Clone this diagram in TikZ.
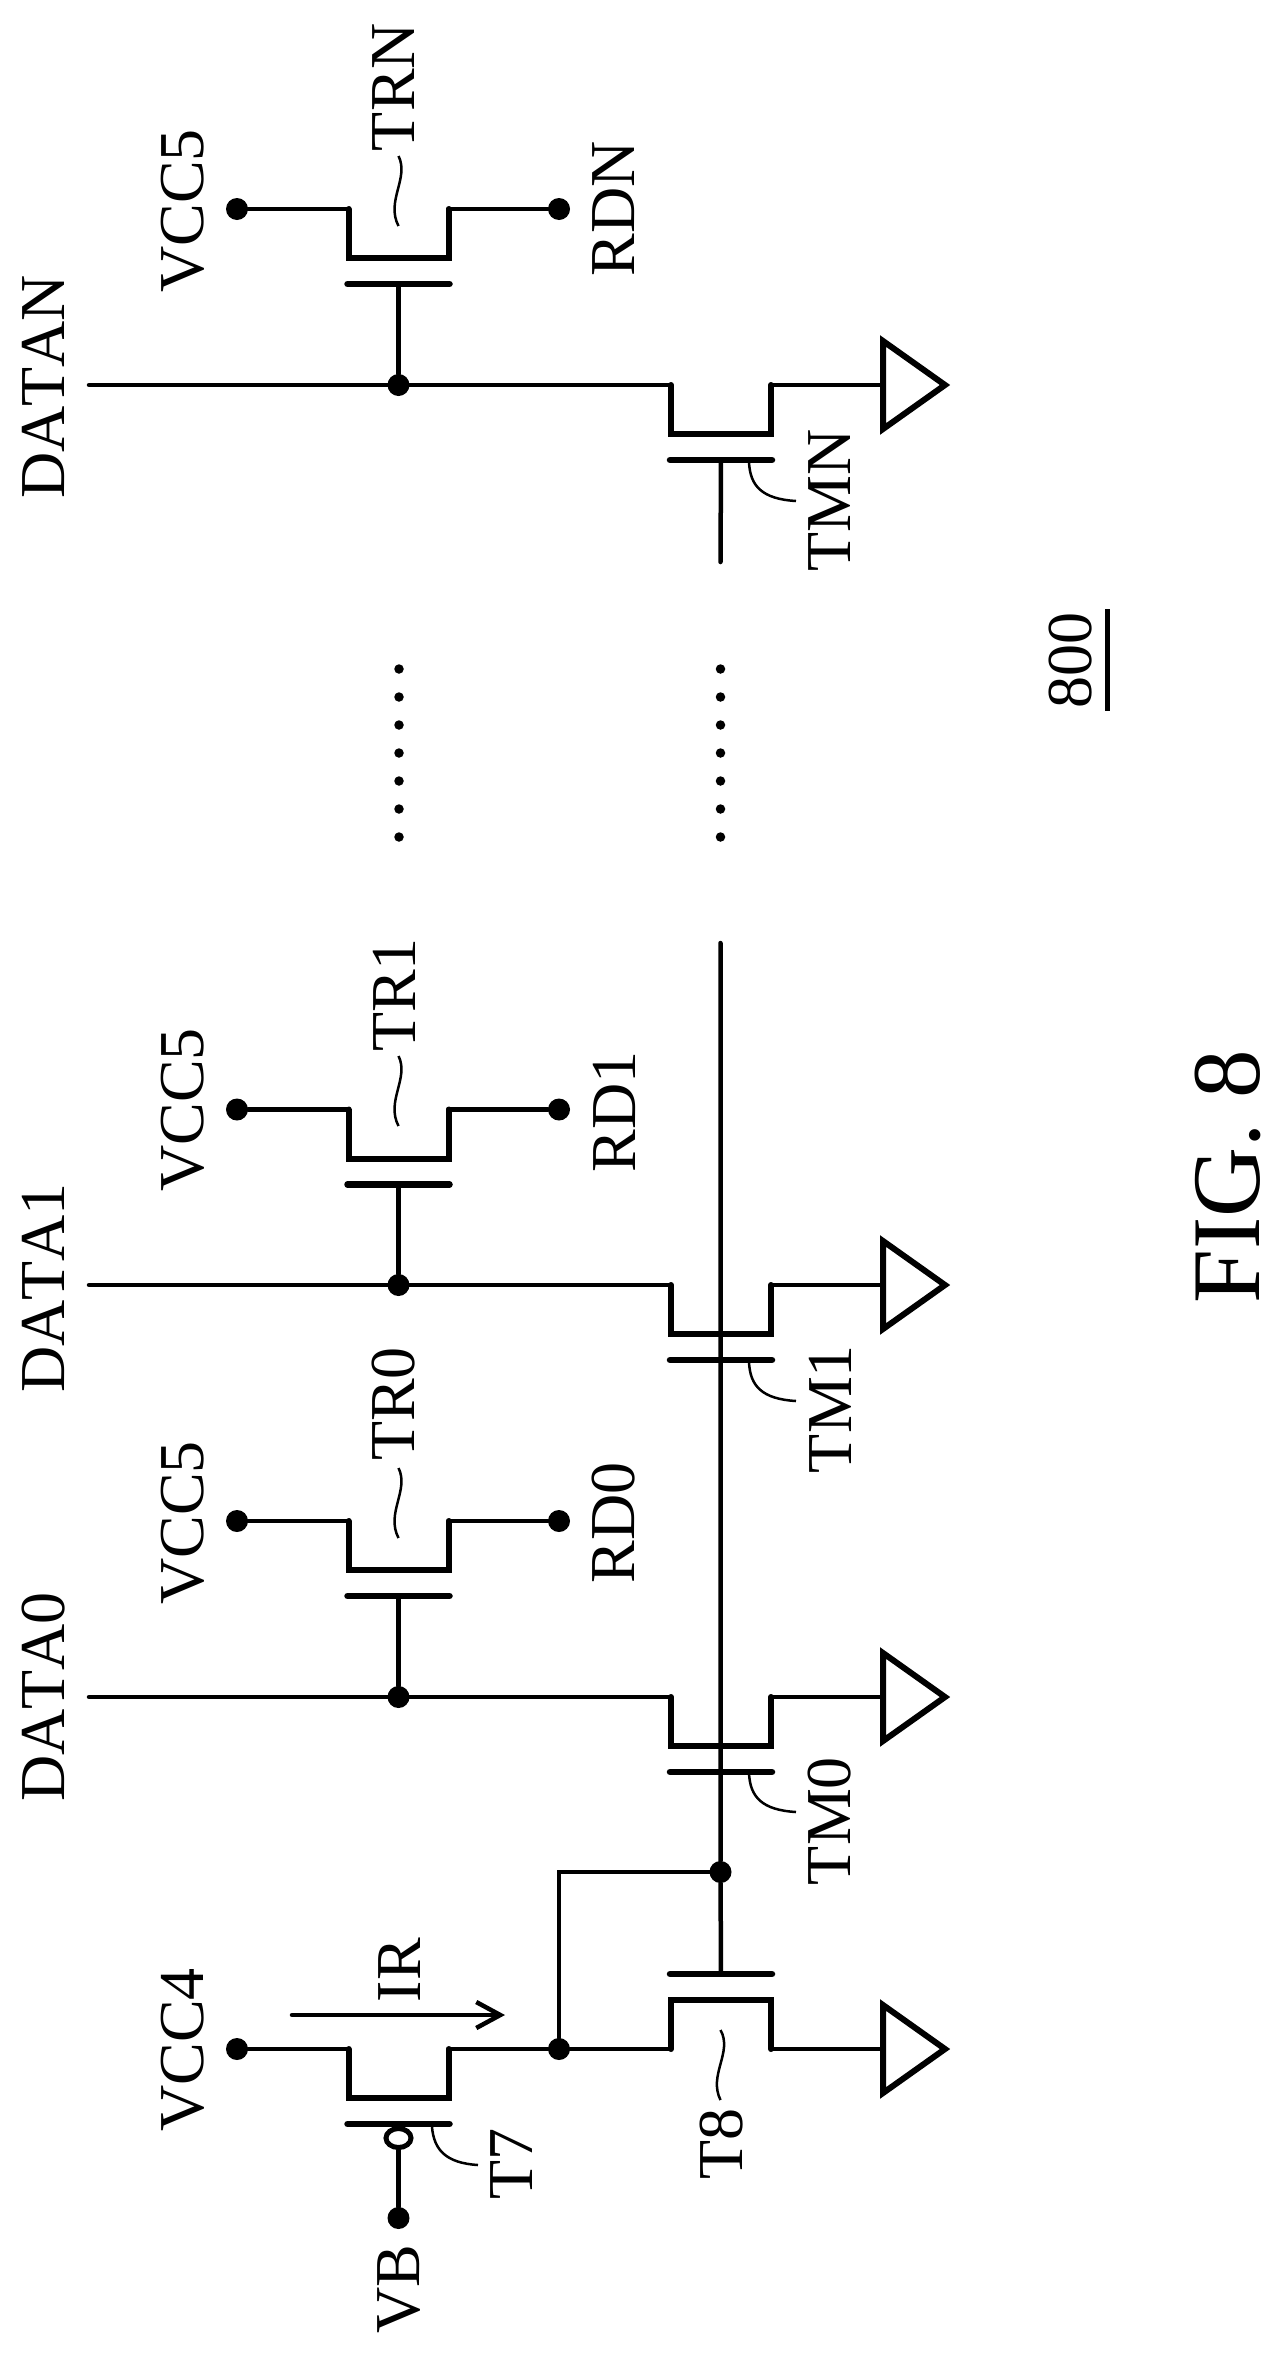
\documentclass[tikz,border=0pt]{standalone}
\usepackage{fontspec}
\setmainfont{Liberation Serif}[Kerning=Off]
\usetikzlibrary{arrows.meta,shapes.geometric}
\tikzset{
  wire/.style={line width=4.5pt,line cap=round},
  fetline/.style={line width=6pt,line cap=round,line join=miter},
  plate/.style={line width=6.5pt,line cap=round},
  leader/.style={line width=2.5pt},
  gndtri/.style={line width=6pt,line join=miter},
  dotnode/.style={circle,fill=black,inner sep=0pt,minimum size=22pt},
  smalldot/.style={circle,fill=black,inner sep=0pt,minimum size=9.5pt},
  lbl/.style={rotate=90,inner sep=0pt,font=\fontsize{64}{64}\selectfont},
  figlbl/.style={rotate=90,inner sep=0pt,font=\fontsize{97}{97}\selectfont},
  bubble/.style={ellipse,draw=black,fill=white,line width=5pt,inner sep=0pt,minimum width=25pt,minimum height=19pt},
}
% transistor: #1 name, #2 centre x, #3 terminal y, #4 +1 gate below, -1 gate above
\newcommand{\Fet}[4]{%
  \coordinate (#1s) at (#2-50,#3);
  \coordinate (#1d) at (#2+50,#3);
  \coordinate (#1g) at (#2,#3+#4*75);
  \draw[fetline] (#1s) -- (#2-50,#3+#4*49) -- (#2+50,#3+#4*49) -- (#1d);
  \draw[plate] (#2-51,#3+#4*75) -- (#2+51,#3+#4*75);
}
% ground: #1 name, #2 y
\newcommand{\Gnd}[2]{%
  \coordinate (#1) at (883,#2);
  \draw[gndtri] (883,#2-44) -- (945,#2) -- (883,#2+44) -- cycle;
}
% wavy leader: #1 x, #2 top y, #3 bottom y
\newcommand{\Wavy}[3]{%
  \draw[leader] (#1,#2) .. controls (#1+11,#2+22) and (#1-13,#2+45) .. (#1,#3);
}
% curved leader beside a gate: #1 y of the plate
\newcommand{\CurveT}[1]{%
  \draw[leader] (749,#1+2) .. controls (750,#1+26) and (762,#1+39) .. (796,#1+41);
}
\begin{document}
\begin{tikzpicture}[x=1pt,y=-1pt]
\useasboundingbox (0,0) rectangle (1282,2353);

% ---- column 0: T7 / T8
\Fet{tseven}{398.5}{2049}{1}
\Fet{teight}{721}{2049}{-1}
\Gnd{ga}{2049}
\node[dotnode] (vcc4) at (237,2049) {};
\node[dotnode] (mid) at (559,2049) {};
\node[dotnode] (vb) at (398.5,2218) {};
\node[dotnode] (bias) at (720.5,1872) {};
\node[bubble] (bub) at (398.5,2138) {};
\draw[wire] (vcc4) -- (tsevens);
\draw[wire] (tsevend) -- (mid) -- (teights);
\draw[wire] (teightd) -- (ga);
\draw[wire] (mid) |- (bias);
\draw[wire] (bub) -- (vb);
\coordinate (irs) at (292,2015);
\coordinate (ire) at (505,2015);
\draw[wire,-{Straight Barb[length=24pt,width=26pt,line width=4.5pt]}] (irs) -- (ire);

% ---- rail
\coordinate (railend) at (720.5,943);
\draw[wire] (teightg) -- (bias) -- (railend);

% ---- DATA0
\Fet{trz}{398.5}{1521}{1}
\Fet{tmz}{721}{1697}{1}
\Gnd{gb}{1697}
\coordinate (dz) at (89,1697);
\node[dotnode] (jz) at (398.5,1697) {};
\node[dotnode] (vz) at (237,1521) {};
\node[dotnode] (rz) at (559,1521) {};
\draw[wire] (dz) -- (jz) -- (tmzs);
\draw[wire] (tmzd) -- (gb);
\draw[wire] (vz) -- (trzs);
\draw[wire] (trzd) -- (rz);
\draw[wire] (trzg) -- (jz);

% ---- DATA1
\Fet{tro}{398.5}{1109.5}{1}
\Fet{tmo}{721}{1285}{1}
\Gnd{gc}{1285}
\coordinate (do) at (89,1285);
\node[dotnode] (jo) at (398.5,1285) {};
\node[dotnode] (vo) at (237,1109.5) {};
\node[dotnode] (ro) at (559,1109.5) {};
\draw[wire] (do) -- (jo) -- (tmos);
\draw[wire] (tmod) -- (gc);
\draw[wire] (vo) -- (tros);
\draw[wire] (trod) -- (ro);
\draw[wire] (trog) -- (jo);

% ---- DATAN
\Fet{trn}{398.5}{209}{1}
\Fet{tmn}{721}{385}{1}
\Gnd{gd}{385}
\coordinate (dn) at (89,385);
\coordinate (gn) at (720.5,562);
\node[dotnode] (jn) at (398.5,385) {};
\node[dotnode] (vn) at (237,209) {};
\node[dotnode] (rn) at (559,209) {};
\draw[wire] (dn) -- (jn) -- (tmns);
\draw[wire] (tmnd) -- (gd);
\draw[wire] (vn) -- (trns);
\draw[wire] (trnd) -- (rn);
\draw[wire] (trng) -- (jn);
\draw[wire] (tmng) -- (gn);

% ---- ellipsis dots
\foreach \i/\yy in {1/669,2/697,3/725,4/753,5/781,6/809,7/837}{
  \node[smalldot] (ua\i) at (399,\yy) {};
  \node[smalldot] (ub\i) at (720.5,\yy) {};
}

% ---- leaders
\draw[leader] (432,2127) .. controls (434,2150) and (446,2163) .. (478,2165);
\draw[leader] (720.5,2030) .. controls (733,2052) and (708,2075) .. (720.5,2100);
\Wavy{398.5}{1056}{1126}
\Wavy{398.5}{1468}{1538}
\Wavy{398.5}{156}{226}
\CurveT{1771}
\CurveT{1360}
\CurveT{460}

% ---- labels
\node[lbl] (lvcc4) at (183,2050) {VCC4};
\node[lbl] (lir) at (399.5,1970) {IR};
\node[lbl] (lvb) at (399.5,2289) {VB};
\node[lbl] (lt7) at (512,2164) {T7};
\node[lbl] (lt8) at (722,2144) {T8};
\node[lbl] (ltm0) at (830,1821) {TM0};
\node[lbl] (ldata0) at (43.5,1697) {DATA0};
\node[lbl] (lv0) at (183,1523) {VCC5};
\node[lbl] (lrd0) at (614,1523) {RD0};
\node[lbl] (ltr0) at (394,1404) {TR0};
\node[lbl] (ltm1) at (830,1409) {TM1};
\node[lbl] (ldata1) at (43.5,1288) {DATA1};
\node[lbl] (lv1) at (183,1110) {VCC5};
\node[lbl] (lrd1) at (614,1112) {RD1};
\node[lbl] (ltr1) at (394,995) {TR1};
\node[lbl] (ltmn) at (830,500) {TMN};
\node[lbl] (ldatan) at (43.5,387) {DATAN};
\node[lbl] (lvn) at (183,211) {VCC5};
\node[lbl] (lrdn) at (614,209) {RDN};
\node[lbl] (ltrn) at (394,87) {TRN};
\node[lbl] (l800) at (1071,660) {800};
\coordinate (ula) at (1107.5,609);
\coordinate (ulb) at (1107.5,711);
\draw[line width=5pt] (ula) -- (ulb);
\node[figlbl] (lfig) at (1228,1177) {FIG. 8};
\end{tikzpicture}
\end{document}
